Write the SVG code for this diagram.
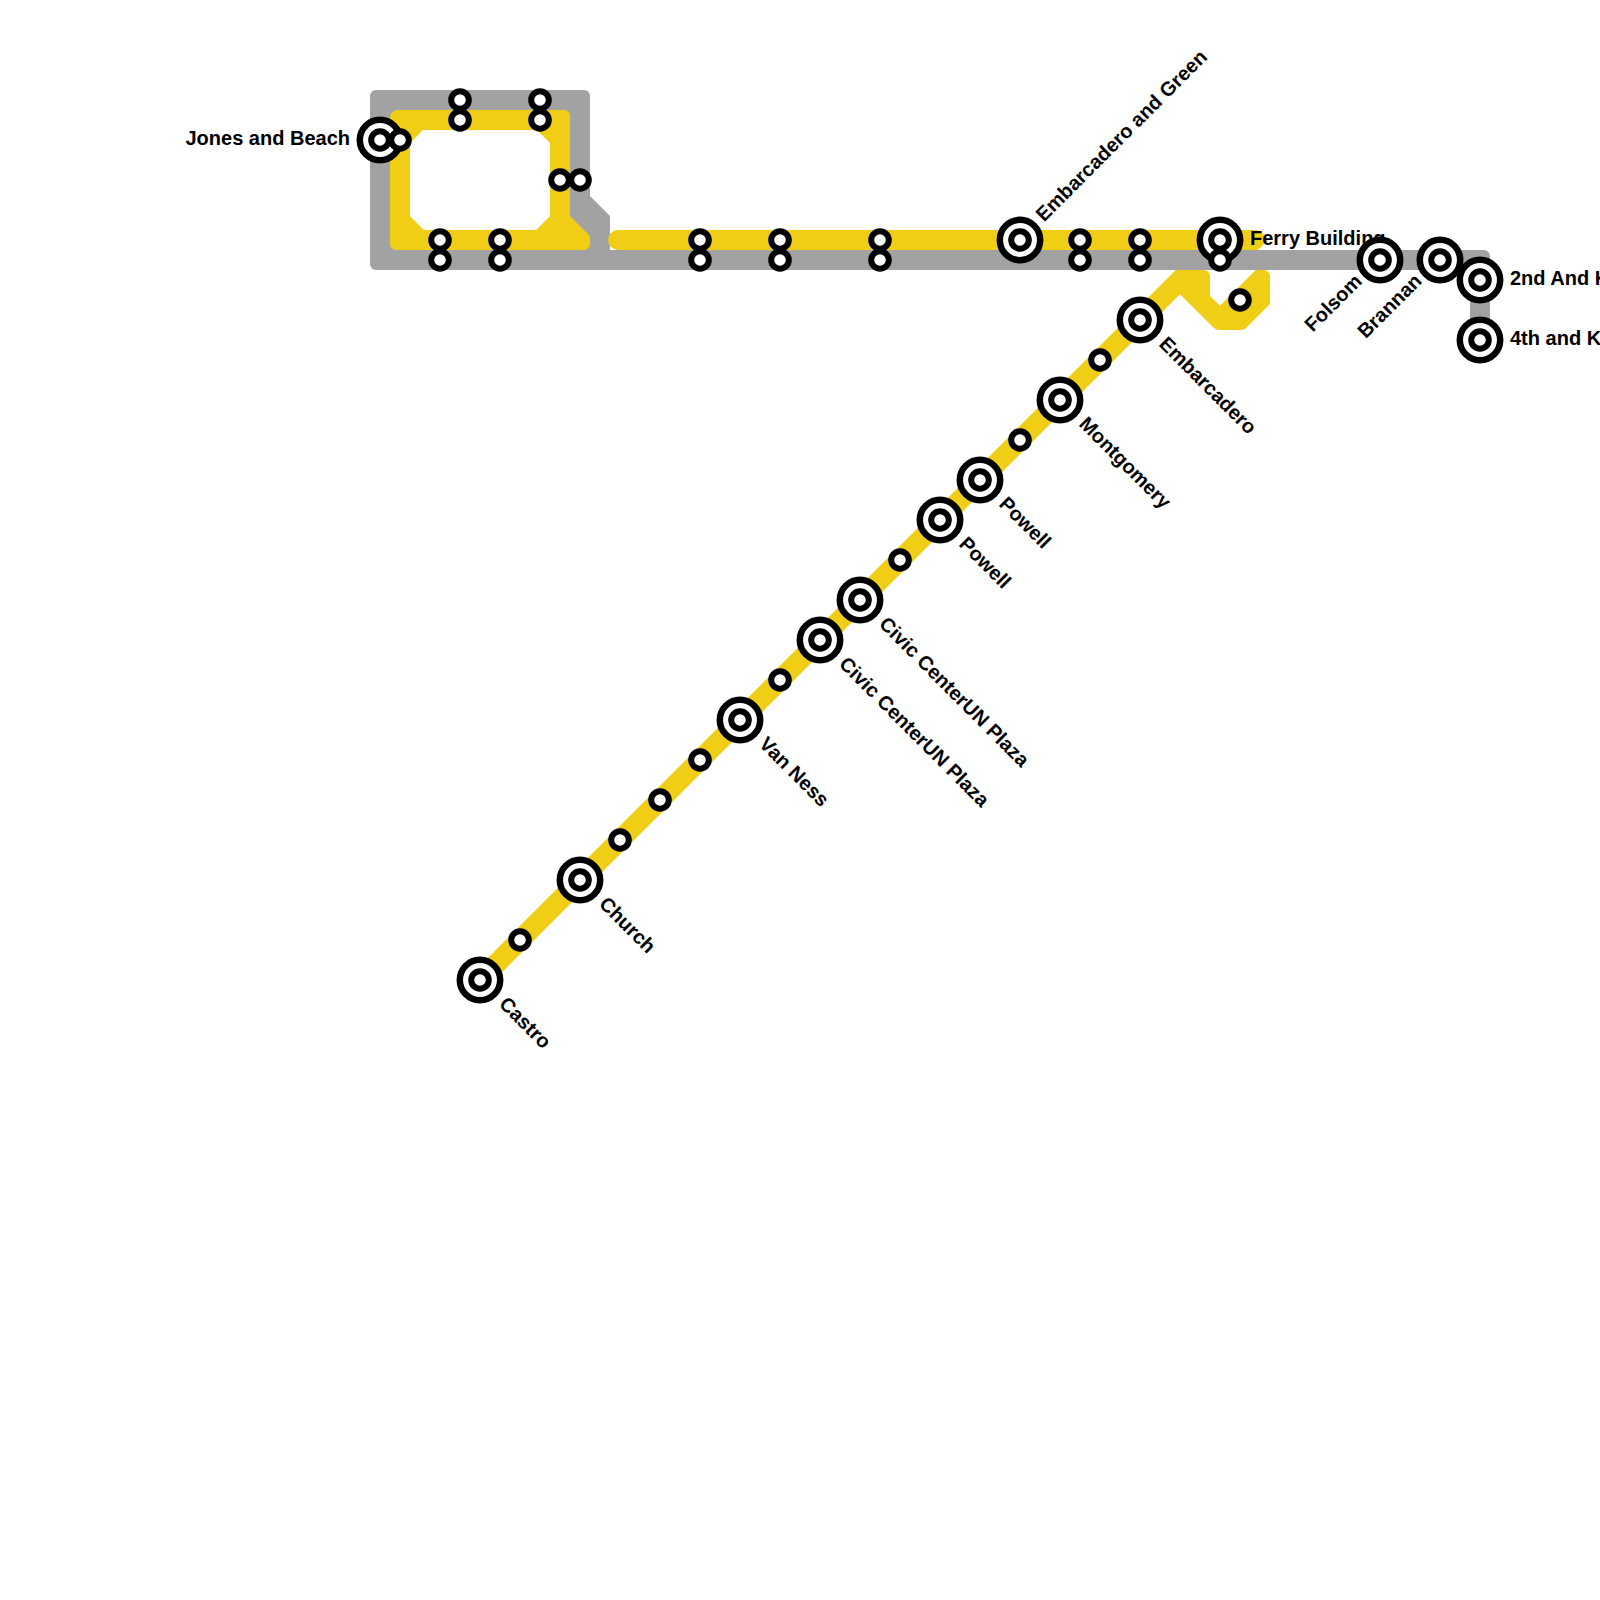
<svg xmlns="http://www.w3.org/2000/svg" width="1600" height="1600" viewBox="0 0 1600 1600">
<defs><style>
.grey{fill:#a2a2a2;fill-rule:evenodd}
.yellow{fill:#f0ce15;fill-rule:evenodd}
.ring{fill:#fff;stroke:#000;stroke-width:6}
.ring2{fill:#fff;stroke:#000;stroke-width:6.5}
.lbl{font-family:"Liberation Sans",Arial,sans-serif;font-weight:700;font-size:20px;fill:#000}
</style>
<g id="big"><circle r="20.2" class="ring2"/><circle r="8.8" class="ring"/></g>
<circle id="small" r="8.8" class="ring"/>
</defs>
<rect width="1600" height="1600" fill="#fff"/>
<g id="connectors">
<path class="grey" d="M376 90H584A6 6 0 0 1 590 96V196L610 216V250H1484A6 6 0 0 1 1490 256V340H1470V270H376A6 6 0 0 1 370 264V96A6 6 0 0 1 376 90ZM396 116V244H580L560 224V116Z"/>
<path class="yellow" d="M398 110H564A6 6 0 0 1 570 116V216L588 234Q590 236 590 238V244A6 6 0 0 1 584 250H396A6 6 0 0 1 390 244V118A8 8 0 0 1 398 110ZM423 130L410 143V216L424 230H536L550 216V143L537 130Z"/>
<path class="yellow" d="M618 230H1256Q1262 231 1268 240L1258 250H618A10 10 0 0 1 618 230Z"/>
<path class="yellow" d="M472.930 972.930L1175.860 270H1204A6 6 0 0 1 1210 276V296L1220 305.860L1255.860 270H1264A6 6 0 0 1 1270 276V304L1246 328Q1244 330 1241 330H1219Q1216 330 1214 328L1180 294.140L487.070 987.070Z"/>
</g>
<g id="labels">
<text class="lbl" x="350" y="145" text-anchor="end">Jones and Beach</text>
<text class="lbl" x="1250" y="245">Ferry Building</text>
<text class="lbl" x="1510" y="285">2nd And K</text>
<text class="lbl" x="1510" y="345">4th and K</text>
<text class="lbl" transform="translate(1044 222.500) rotate(-45)">Embarcadero and Green</text>
<text class="lbl" text-anchor="end" transform="translate(1363 282.500) rotate(-45)">Folsom</text>
<text class="lbl" text-anchor="end" transform="translate(1423 282) rotate(-45)">Brannan</text>
<text class="lbl" transform="translate(498 1005) rotate(45)">Castro</text>
<text class="lbl" transform="translate(598 905) rotate(45)">Church</text>
<text class="lbl" transform="translate(758 745) rotate(45)">Van Ness</text>
<text class="lbl" transform="translate(838 665) rotate(45)">Civic CenterUN Plaza</text>
<text class="lbl" transform="translate(878 625) rotate(45)">Civic CenterUN Plaza</text>
<text class="lbl" transform="translate(958 545) rotate(45)">Powell</text>
<text class="lbl" transform="translate(998 505) rotate(45)">Powell</text>
<text class="lbl" transform="translate(1078 425) rotate(45)">Montgomery</text>
<text class="lbl" transform="translate(1158 345) rotate(45)">Embarcadero</text>
</g>
<g id="st-jones"><use href="#big" x="380" y="140"/></g>
<g id="st-a1"><use href="#small" x="400" y="140"/></g>
<g id="st-a2"><use href="#small" x="460" y="100"/></g>
<g id="st-a3"><use href="#small" x="460" y="120"/></g>
<g id="st-a4"><use href="#small" x="540" y="100"/></g>
<g id="st-a5"><use href="#small" x="540" y="120"/></g>
<g id="st-a6"><use href="#small" x="560" y="180"/></g>
<g id="st-a7"><use href="#small" x="580" y="180"/></g>
<g id="st-a8"><use href="#small" x="440" y="240"/></g>
<g id="st-a9"><use href="#small" x="440" y="260"/></g>
<g id="st-a10"><use href="#small" x="500" y="240"/></g>
<g id="st-a11"><use href="#small" x="500" y="260"/></g>
<g id="st-a12"><use href="#small" x="700" y="240"/></g>
<g id="st-a13"><use href="#small" x="700" y="260"/></g>
<g id="st-a14"><use href="#small" x="780" y="240"/></g>
<g id="st-a15"><use href="#small" x="780" y="260"/></g>
<g id="st-a16"><use href="#small" x="880" y="240"/></g>
<g id="st-a17"><use href="#small" x="880" y="260"/></g>
<g id="st-embgreen"><use href="#big" x="1020" y="240"/></g>
<g id="st-a18"><use href="#small" x="1080" y="240"/></g>
<g id="st-a19"><use href="#small" x="1080" y="260"/></g>
<g id="st-a20"><use href="#small" x="1140" y="240"/></g>
<g id="st-a21"><use href="#small" x="1140" y="260"/></g>
<g id="st-ferry"><use href="#big" x="1220" y="240"/></g>
<g id="st-a22"><use href="#small" x="1220" y="260"/></g>
<g id="st-a23"><use href="#small" x="1240" y="300"/></g>
<g id="st-folsom"><use href="#big" x="1380" y="260"/></g>
<g id="st-brannan"><use href="#big" x="1440" y="260"/></g>
<g id="st-2nd"><use href="#big" x="1480" y="280"/></g>
<g id="st-4th"><use href="#big" x="1480" y="340"/></g>
<g id="st-castro"><use href="#big" x="480" y="980"/></g>
<g id="st-d1"><use href="#small" x="520" y="940"/></g>
<g id="st-church"><use href="#big" x="580" y="880"/></g>
<g id="st-d2"><use href="#small" x="620" y="840"/></g>
<g id="st-d3"><use href="#small" x="660" y="800"/></g>
<g id="st-d4"><use href="#small" x="700" y="760"/></g>
<g id="st-vanness"><use href="#big" x="740" y="720"/></g>
<g id="st-d5"><use href="#small" x="780" y="680"/></g>
<g id="st-civic1"><use href="#big" x="820" y="640"/></g>
<g id="st-civic2"><use href="#big" x="860" y="600"/></g>
<g id="st-d6"><use href="#small" x="900" y="560"/></g>
<g id="st-powell1"><use href="#big" x="940" y="520"/></g>
<g id="st-powell2"><use href="#big" x="980" y="480"/></g>
<g id="st-d7"><use href="#small" x="1020" y="440"/></g>
<g id="st-montgomery"><use href="#big" x="1060" y="400"/></g>
<g id="st-d8"><use href="#small" x="1100" y="360"/></g>
<g id="st-embarcadero"><use href="#big" x="1140" y="320"/></g>
</svg>
